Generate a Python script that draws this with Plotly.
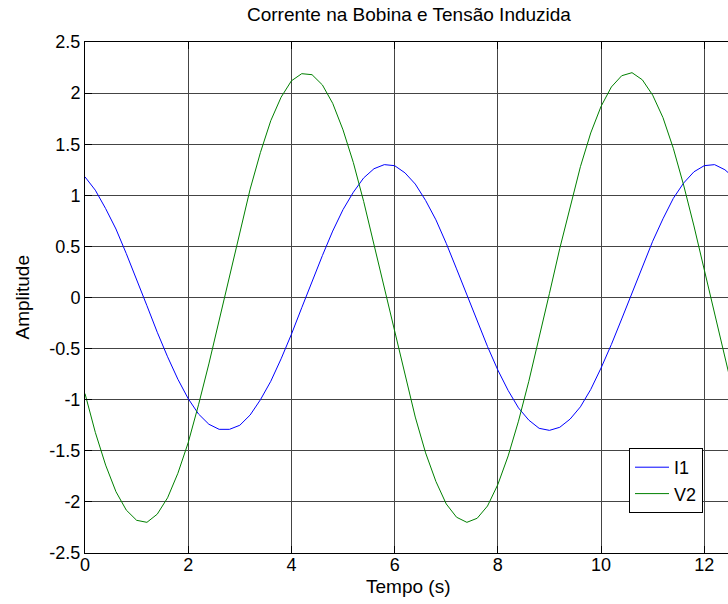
import plotly.graph_objects as go

t = [0.0, 0.2, 0.4, 0.6, 0.8, 1.0, 1.2, 1.4, 1.6, 1.8, 2.0, 2.2, 2.4, 2.6, 2.8, 3.0,
     3.2, 3.4, 3.6, 3.8, 4.0, 4.2, 4.4, 4.6, 4.8, 5.0, 5.2, 5.4, 5.6, 5.8, 6.0, 6.2,
     6.4, 6.6, 6.8, 7.0, 7.2, 7.4, 7.6, 7.8, 8.0, 8.2, 8.4, 8.6, 8.8, 9.0, 9.2, 9.4,
     9.6, 9.8, 10.0, 10.2, 10.4, 10.6, 10.8, 11.0, 11.2, 11.4, 11.6, 11.8, 12.0, 12.2,
     12.4, 12.6]

i1 = [1.18, 1.05, 0.87, 0.67, 0.43, 0.18, -0.08, -0.34, -0.58, -0.80, -0.99, -1.14,
      -1.24, -1.29, -1.29, -1.25, -1.15, -1.00, -0.82, -0.60, -0.36, -0.10, 0.16, 0.41,
      0.65, 0.86, 1.03, 1.17, 1.26, 1.30, 1.29, 1.22, 1.11, 0.95, 0.76, 0.53, 0.28, 0.03,
      -0.23, -0.48, -0.71, -0.91, -1.08, -1.20, -1.28, -1.30, -1.27, -1.19, -1.07, -0.90,
      -0.69, -0.46, -0.21, 0.05, 0.31, 0.55, 0.77, 0.97, 1.12, 1.23, 1.29, 1.30, 1.25, 1.16]

v2 = [-0.94, -1.32, -1.64, -1.90, -2.08, -2.18, -2.20, -2.12, -1.96, -1.72, -1.42, -1.05,
      -0.65, -0.22, 0.22, 0.65, 1.06, 1.42, 1.73, 1.96, 2.12, 2.19, 2.18, 2.08, 1.90, 1.64,
      1.32, 0.94, 0.52, 0.09, -0.35, -0.77, -1.17, -1.52, -1.80, -2.02, -2.15, -2.20, -2.16,
      -2.04, -1.83, -1.55, -1.21, -0.82, -0.40, 0.04, 0.48, 0.89, 1.28, 1.61, 1.87, 2.06,
      2.17, 2.20, 2.13, 1.98, 1.76, 1.46, 1.10, 0.70, 0.27, -0.17, -0.60, -1.01]

x_ticks = [0, 2, 4, 6, 8, 10, 12]
y_ticks = [-2.5, -2, -1.5, -1, -0.5, 0, 0.5, 1, 1.5, 2, 2.5]
y_tick_labels = ["-2.5", "-2", "-1.5", "-1", "-0.5", "0", "0.5", "1", "1.5", "2", "2.5"]

title_text = "Corrente na Bobina e Tensão Induzida"
x_label = "Tempo (s)"
y_label = "Amplitude"

FONT = "Liberation Sans, Arial, sans-serif"

fig = go.Figure()
fig.add_trace(go.Scatter(x=t, y=i1, mode="lines", name="I1",
                         line=dict(color="#0000FF", width=1)))
fig.add_trace(go.Scatter(x=t, y=v2, mode="lines", name="V2",
                         line=dict(color="#008000", width=1)))

fig.update_layout(
    width=728, height=604,
    margin=dict(l=85, r=0, t=42, b=51),
    paper_bgcolor="white", plot_bgcolor="white",
    font=dict(family=FONT, size=18, color="black"),
    showlegend=True,
    legend=dict(x=(629 - 85) / 643, y=(553 - 448) / 511, xanchor="left", yanchor="top",
                bordercolor="black", borderwidth=1, bgcolor="white",
                font=dict(size=18), tracegroupgap=0, itemwidth=34),
    xaxis=dict(range=[0, 12.46], tickvals=x_ticks, ticks="inside", ticklen=7,
               tickcolor="black", showline=True, linecolor="black", linewidth=1,
               mirror="ticks", showgrid=True, gridcolor="#444", gridwidth=1,
               zeroline=False, tickfont=dict(size=18), ticklabelstandoff=-5),
    yaxis=dict(range=[-2.5, 2.5], tickvals=y_ticks, ticktext=y_tick_labels,
               ticks="inside", ticklen=7, tickcolor="black", showline=True,
               linecolor="black", linewidth=1, mirror=False, showgrid=True,
               gridcolor="#444", gridwidth=1, zeroline=False, tickfont=dict(size=18)),
    annotations=[
        dict(text=title_text, xref="paper", yref="paper", x=(409 - 85) / 643,
             y=1 + 28 / 511, xanchor="center", yanchor="middle", showarrow=False,
             font=dict(size=19)),
        dict(text=x_label, xref="paper", yref="paper", x=(408 - 85) / 643,
             y=-34 / 511, xanchor="center", yanchor="middle", showarrow=False,
             font=dict(size=19)),
        dict(text=y_label, xref="paper", yref="paper", x=-63 / 643, y=0.5,
             xanchor="center", yanchor="middle", showarrow=False, textangle=-90,
             font=dict(size=19)),
    ],
)

fig.write_html("out.html", config={"displayModeBar": False},
               post_script="document.body.style.margin='0px';document.body.style.overflow='hidden';")
